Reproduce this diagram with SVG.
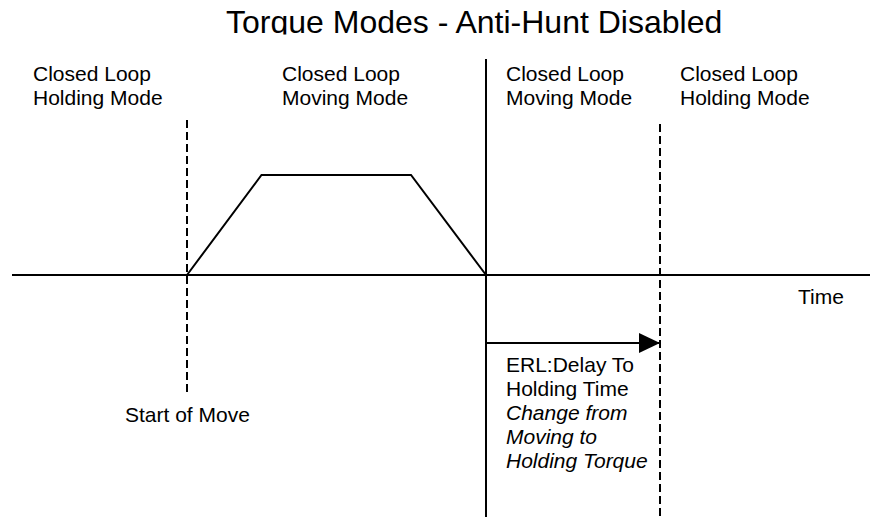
<svg xmlns="http://www.w3.org/2000/svg" width="870" height="517" viewBox="0 0 870 517">
<style>
text{font-family:"Liberation Sans",Arial,sans-serif;font-size:21px;fill:#000}
.title{font-size:32px}
.it{font-style:italic}
.ln{stroke:#000;stroke-width:2;fill:none}
.dash{stroke:#000;stroke-width:2;fill:none;stroke-dasharray:8 4}
</style>
<defs>
<clipPath id="tc"><rect x="0" y="0" width="870" height="34.5"/></clipPath>
<marker id="ah" markerUnits="userSpaceOnUse" markerWidth="22" markerHeight="20" refX="21" refY="10" orient="auto">
<path d="M0,0 L21,10 L0,20 Z" fill="#000"/>
</marker>
</defs>
<rect width="870" height="517" fill="#fff"/>
<g id="title" clip-path="url(#tc)"><text class="title" x="226" y="33">Torque Modes - Anti-Hunt Disabled</text></g>
<g id="mode1"><text x="33" y="81">Closed Loop</text><text x="33" y="105">Holding Mode</text></g>
<g id="mode2"><text x="282" y="81">Closed Loop</text><text x="282" y="105">Moving Mode</text></g>
<g id="mode3"><text x="506" y="81">Closed Loop</text><text x="506" y="105">Moving Mode</text></g>
<g id="mode4"><text x="680" y="81">Closed Loop</text><text x="680" y="105">Holding Mode</text></g>
<g id="time"><text x="798" y="304">Time</text></g>
<g id="start"><text x="125" y="422">Start of Move</text></g>
<g id="erl">
<text x="506" y="372">ERL:Delay To</text>
<text x="506" y="396">Holding Time</text>
<text class="it" x="506" y="420">Change from</text>
<text class="it" x="506" y="444">Moving to</text>
<text class="it" x="506" y="468">Holding Torque</text>
</g>
<g id="connectors">
<line class="ln" x1="12" y1="275" x2="870" y2="275"/>
<line class="ln" x1="486" y1="59" x2="486" y2="517"/>
<line class="dash" x1="187" y1="120" x2="187" y2="394"/>
<line class="dash" x1="660" y1="124" x2="660" y2="517"/>
<polyline class="ln" points="187,275 261.5,175 411,175 486,275"/>
<line class="ln" x1="486" y1="343" x2="660" y2="343" marker-end="url(#ah)"/>
</g>
</svg>
